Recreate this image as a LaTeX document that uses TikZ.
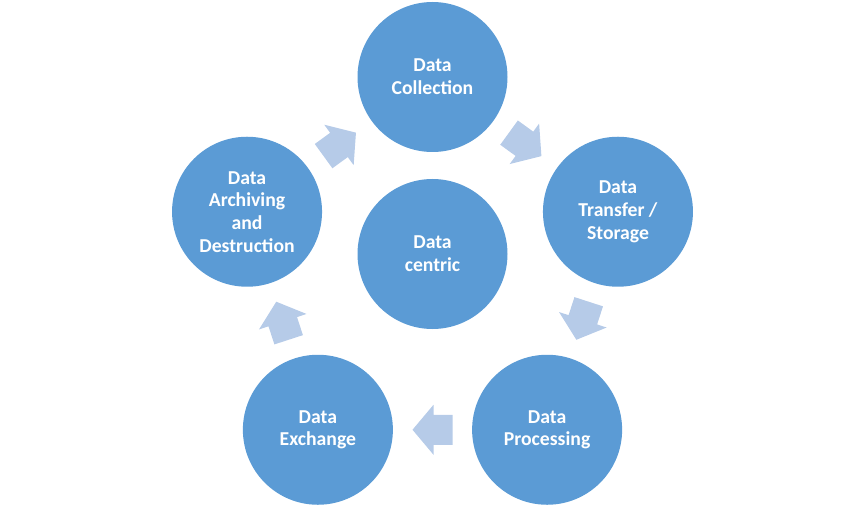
\documentclass[tikz,border=0pt]{standalone}
\usepackage{fontspec}
\setmainfont{Carlito}
\usetikzlibrary{calc}
\definecolor{circ}{HTML}{5B9BD5}
\definecolor{arr}{HTML}{B6CBE8}
\begin{document}
\begin{tikzpicture}[x=1pt,y=1pt,
  cyc/.style={circle,fill=circ,draw=none,minimum size=150pt,inner sep=0pt,
    text=white,font=\fontsize{19.7}{22.7}\selectfont\bfseries,align=center},
  blockarr/.pic={\fill[arr] (-20,-15) -- (-1,-15) -- (-1,-25) -- (20,0)
    -- (-1,25) -- (-1,15) -- (-20,15) -- cycle;}]
\useasboundingbox (0,0) rectangle (865,507);
\coordinate (ring) at (432.5,235);
\node[cyc] (col) at ($(ring)+(90:195)$) {Data\\Collection};
\node[cyc] (tra) at ($(ring)+(18:195)$) {Data\\Transfer /\\Storage};
\node[cyc] (pro) at ($(ring)+(-54:195)$) {Data\\Processing};
\node[cyc] (exc) at ($(ring)+(-126:195)$) {Data\\Exchange};
\node[cyc] (arc) at ($(ring)+(162:195)$) {Data\\Archiving\\and\\Destruction};
\node[cyc] (cen) at (432.5,253) {Data\\centric};
\coordinate (m1) at ($(arc)!0.5!(col)$);
\coordinate (m2) at ($(col)!0.5!(tra)$);
\coordinate (m3) at ($(tra)!0.5!(pro)$);
\coordinate (m4) at ($(pro)!0.5!(exc)$);
\coordinate (m5) at ($(exc)!0.5!(arc)$);
\pic[rotate=36] at (m1) {blockarr};
\pic[rotate=-36] at (m2) {blockarr};
\pic[rotate=-108] at (m3) {blockarr};
\pic[rotate=180] at (m4) {blockarr};
\pic[rotate=108] at (m5) {blockarr};
\end{tikzpicture}
\end{document}
